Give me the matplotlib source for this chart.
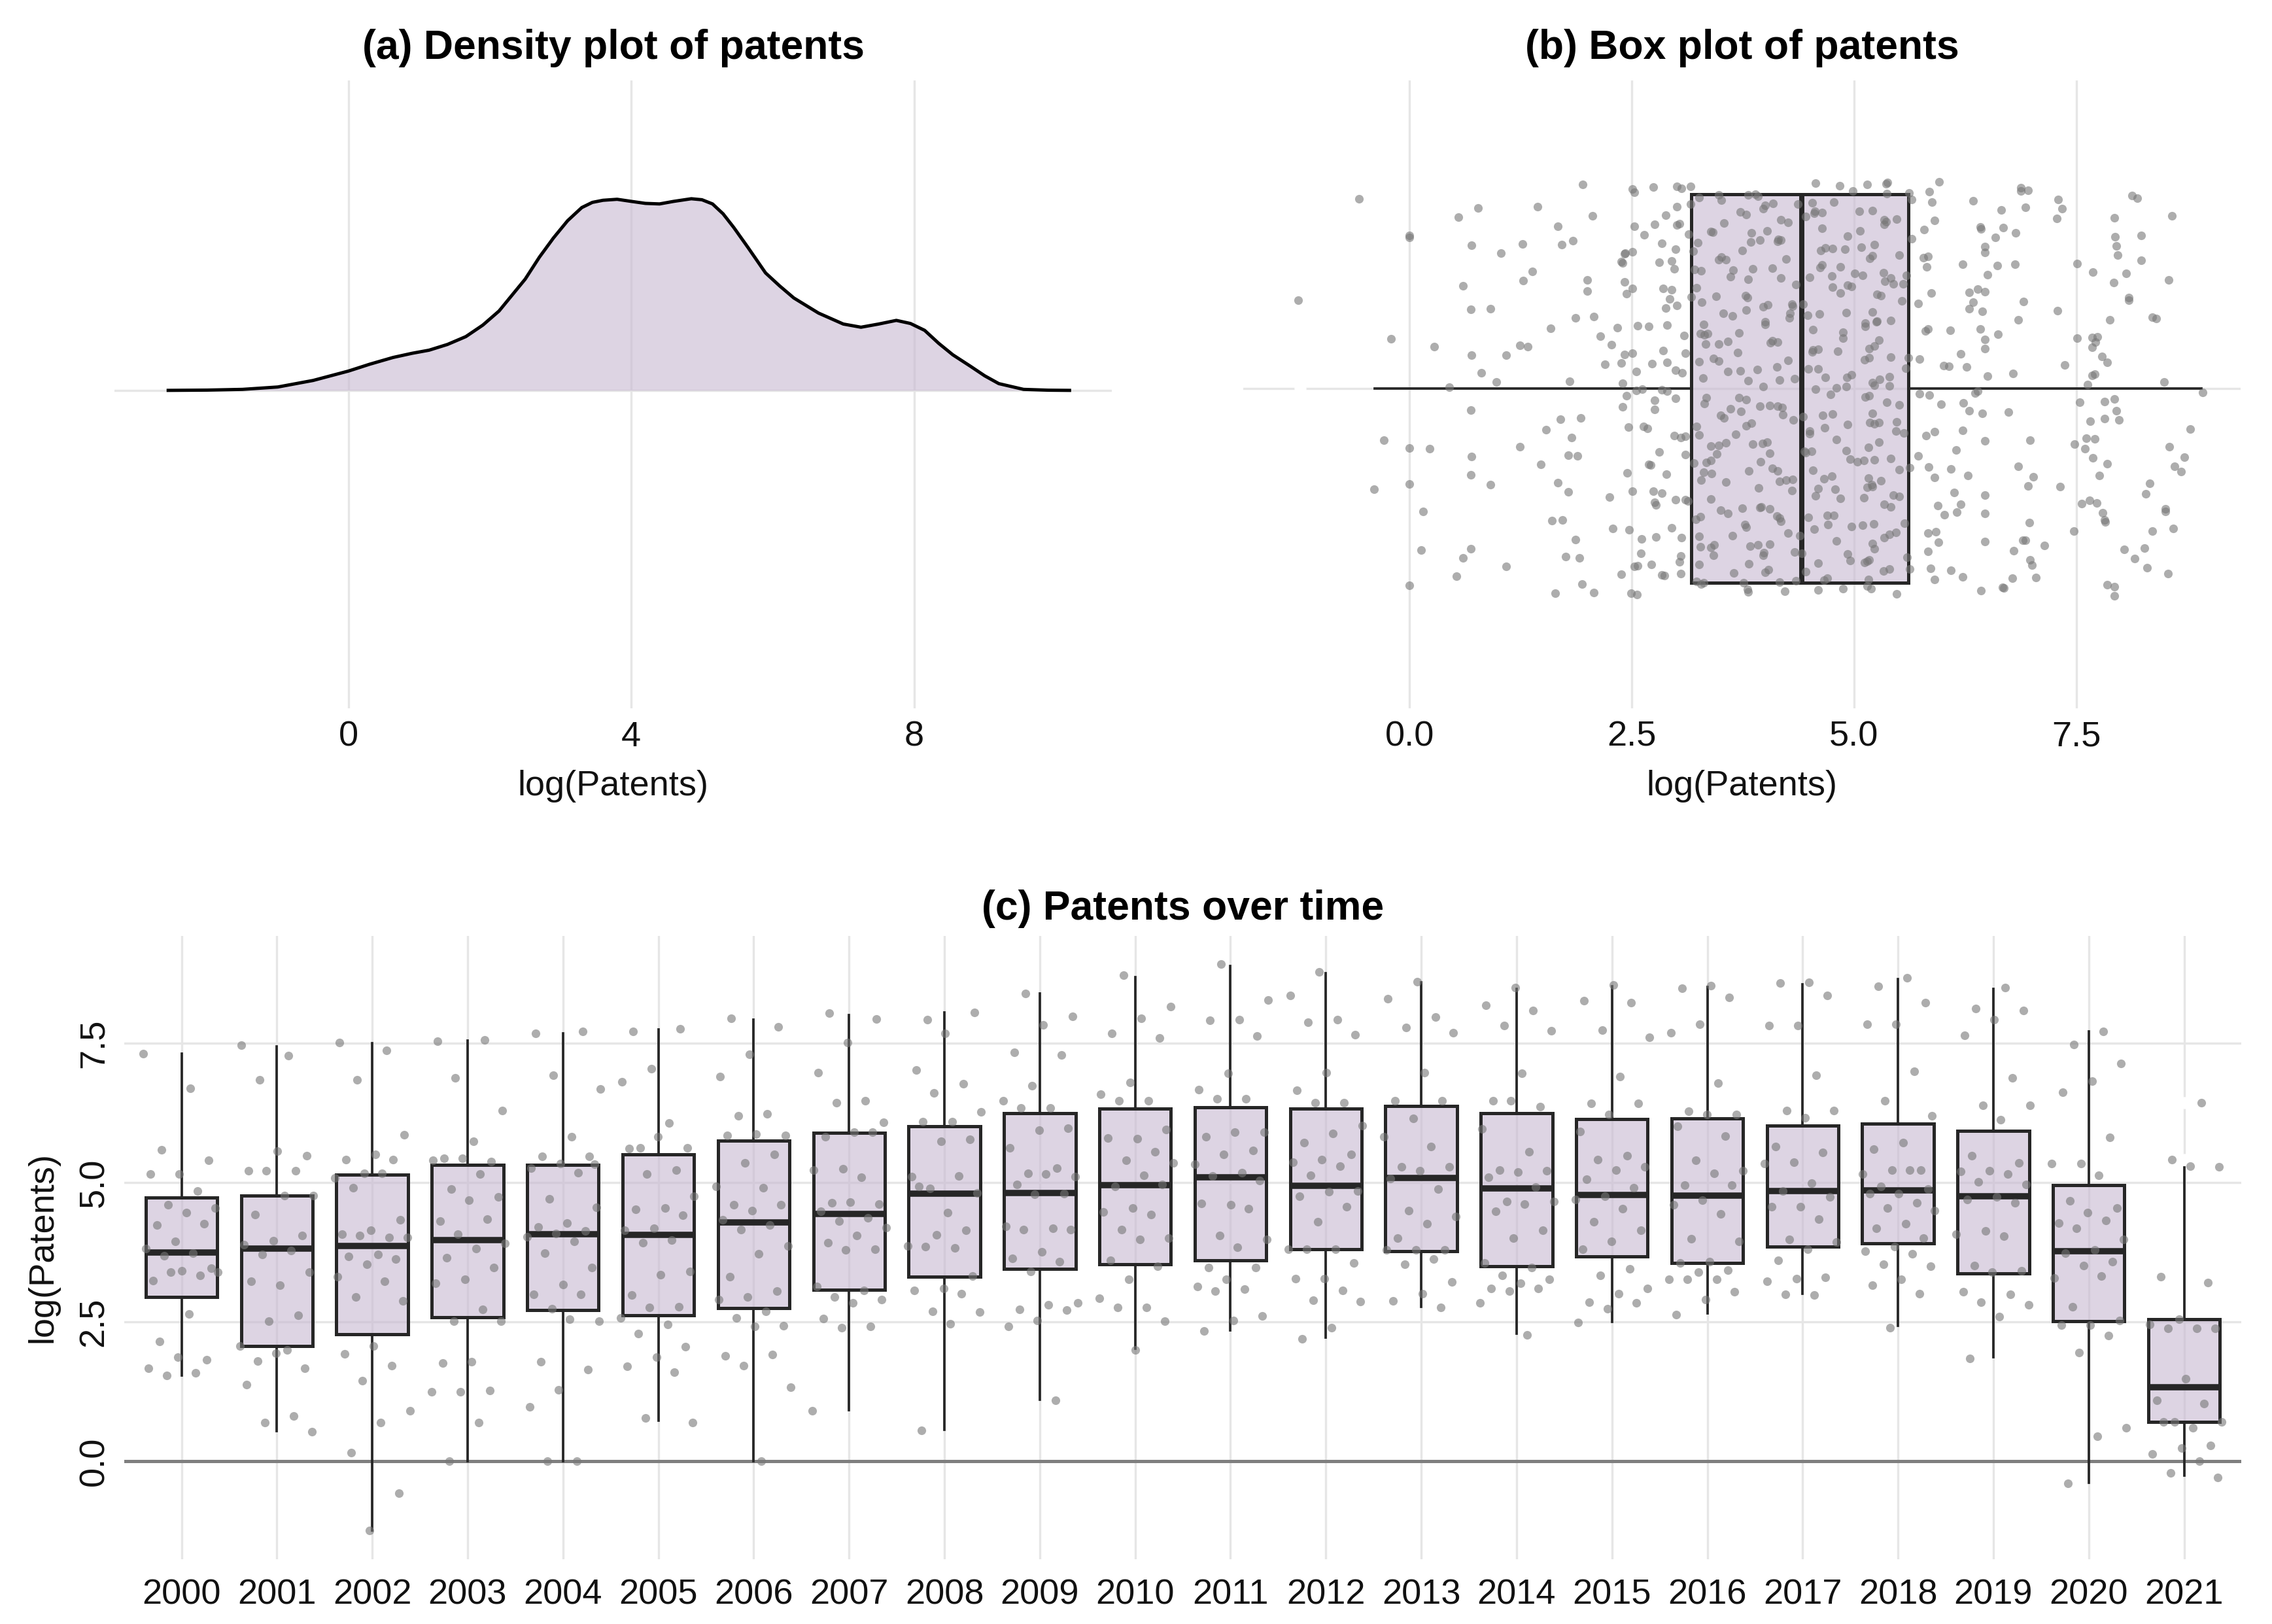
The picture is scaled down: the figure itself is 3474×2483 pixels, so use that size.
import numpy as np
import matplotlib.pyplot as plt

plt.rcParams['font.family'] = ['Liberation Sans', 'DejaVu Sans']

# panel (a): density of log(Patents)
dens_x = [-2.55, -2.0, -1.5, -1.0, -0.5, 0.0, 0.3, 0.63, 0.9, 1.14, 1.4, 1.66, 1.9, 2.13,
          2.3, 2.5, 2.7, 2.9, 3.1, 3.3, 3.45, 3.6, 3.8, 4.0, 4.2, 4.4, 4.6, 4.85, 5.0, 5.15,
          5.3, 5.45, 5.65, 5.9, 6.1, 6.3, 6.65, 7.0, 7.25, 7.5, 7.75, 7.95, 8.15, 8.35, 8.55,
          8.8, 9.0, 9.2, 9.55, 9.9, 10.2]
dens_y = [0.0, 0.0003, 0.0011, 0.0037, 0.0109, 0.0212, 0.0287, 0.0361, 0.0407, 0.0441,
          0.0504, 0.0590, 0.0716, 0.0871, 0.1032, 0.1221, 0.1461, 0.1673, 0.1862, 0.2006,
          0.2063, 0.2086, 0.2097, 0.2074, 0.2052, 0.2046, 0.2074, 0.2103, 0.2092, 0.2046,
          0.1937, 0.1788, 0.1570, 0.1289, 0.1146, 0.1014, 0.0848, 0.0728, 0.0693, 0.0728,
          0.0768, 0.0734, 0.0659, 0.0516, 0.0390, 0.0264, 0.0160, 0.0074, 0.0011, 0.0002,
          0.0]

# panel (b): box over all observations
all_q1, all_med, all_q3 = 3.17, 4.41, 5.61
all_whislo, all_whishi = -0.39, 8.91
all_outliers = [-1.23]

# panel (c): box statistics per year
years = list(range(2000, 2022))
q1 = [2.95, 2.07, 2.28, 2.58, 2.71, 2.62, 2.75, 3.08, 3.31, 3.45, 3.54, 3.61, 3.80, 3.77,
      3.50, 3.67, 3.56, 3.85, 3.91, 3.37, 2.51, 0.70]
med = [3.75, 3.82, 3.86, 3.97, 4.07, 4.06, 4.29, 4.44, 4.80, 4.82, 4.95, 5.10, 4.94, 5.09,
       4.90, 4.78, 4.77, 4.85, 4.86, 4.76, 3.77, 1.33]
q3 = [4.73, 4.77, 5.14, 5.32, 5.32, 5.51, 5.76, 5.89, 6.01, 6.25, 6.33, 6.35, 6.33, 6.38,
      6.25, 6.14, 6.15, 6.02, 6.06, 5.93, 4.96, 2.55]
whislo = [1.54, 0.54, -1.24, 0.00, 0.00, 0.73, 0.00, 0.92, 0.56, 1.10, 2.02, 2.35, 2.22, 2.77,
          2.29, 2.50, 2.65, 3.01, 2.43, 1.87, -0.39, -0.26]
whishi = [7.32, 7.45, 7.50, 7.55, 7.68, 7.75, 7.93, 8.01, 8.05, 8.40, 8.69, 8.89, 8.76, 8.60,
          8.48, 8.53, 8.51, 8.56, 8.65, 8.48, 7.71, 5.27]
out2021 = [6.43, 5.41]

# log(Patents) observations per year
p2000 = [7.32, 6.69, 5.59, 5.40, 5.16, 5.16, 4.85, 4.60, 4.54, 4.46, 4.24, 4.26, 3.95, 3.82, 3.74,
         3.69, 3.46, 3.42, 3.24, 3.33, 3.39, 3.39, 2.64, 2.15, 1.82, 1.87, 1.67, 1.59, 1.54]
p2001 = [7.47, 7.28, 6.85, 5.48, 5.57, 5.21, 5.21, 5.21, 4.77, 4.77, 4.43, 4.05, 3.96, 3.89, 3.78,
         3.71, 3.39, 3.16, 3.23, 2.62, 2.51, 2.07, 2.00, 1.80, 1.67, 1.94, 1.38, 0.81, 0.69, 0.53]
p2002 = [7.51, 7.37, 6.85, 5.86, 5.51, 5.41, 5.41, 5.17, 5.08, 5.17, 4.91, 4.33, 4.15, 4.08, 4.02,
         4.05, 4.02, 3.71, 3.67, 3.63, 3.54, 3.31, 3.23, 2.95, 2.88, 2.07, 1.93, 1.72, 1.44, 0.91,
         0.69, 0.15, -0.57, -1.25]
p2003 = [7.54, 7.56, 6.88, 6.30, 5.74, 5.44, 5.38, 5.44, 5.40, 5.15, 4.88, 4.75, 4.68, 4.31, 4.35,
         4.08, 3.91, 3.82, 3.65, 3.48, 3.26, 3.20, 2.72, 2.51, 2.51, 1.79, 1.76, 1.27, 1.24, 1.24,
         0.69, 0.00]
p2004 = [7.68, 7.71, 6.93, 6.68, 5.83, 5.47, 5.47, 5.34, 5.26, 5.18, 4.71, 4.56, 4.28, 4.20, 4.13,
         4.09, 4.03, 3.94, 3.74, 3.48, 3.17, 2.99, 2.99, 2.74, 2.51, 2.55, 1.79, 1.64, 1.28, 0.98,
         0.00, 0.00, 5.33]
p2005 = [7.71, 7.76, 7.05, 6.81, 6.07, 5.63, 5.63, 5.83, 5.61, 5.23, 5.15, 4.76, 4.54, 4.52, 4.41,
         4.18, 4.14, 3.97, 3.92, 3.41, 3.35, 2.98, 2.77, 2.76, 2.57, 2.46, 2.29, 2.06, 1.87, 1.70,
         1.60, 0.77, 0.69]
p2006 = [7.95, 7.80, 7.30, 6.91, 6.23, 6.20, 5.85, 5.87, 5.85, 5.51, 5.36, 4.93, 4.91, 4.60, 4.60,
         4.50, 4.33, 4.24, 4.16, 3.86, 3.72, 3.31, 3.05, 2.95, 2.90, 2.69, 2.57, 2.43, 2.42, 1.89,
         1.91, 1.71, 1.33, 0.00]
p2007 = [8.04, 7.94, 7.51, 6.98, 6.47, 6.43, 6.08, 5.91, 5.83, 5.91, 5.25, 5.23, 5.10, 4.64, 4.61,
         4.65, 4.49, 4.37, 4.31, 4.19, 4.05, 3.92, 3.80, 3.79, 3.13, 3.06, 2.95, 2.90, 2.84, 2.56,
         2.42, 2.40, 0.91]
p2008 = [7.93, 8.06, 7.68, 7.02, 6.78, 6.61, 6.27, 6.09, 6.09, 5.78, 5.74, 5.11, 5.12, 4.90, 4.82,
         4.46, 4.93, 4.14, 4.06, 3.86, 3.83, 3.85, 3.32, 3.10, 3.06, 3.01, 2.69, 2.68, 2.47, 0.55]
p2009 = [8.40, 7.98, 7.83, 7.34, 7.29, 6.74, 6.47, 6.34, 6.34, 5.98, 5.94, 5.62, 5.26, 5.17, 5.11,
         5.15, 4.97, 4.80, 4.79, 4.22, 4.18, 4.16, 4.16, 3.76, 3.64, 3.58, 3.40, 2.84, 2.81, 2.73,
         2.71, 2.53, 2.42, 1.09]
p2010 = [8.72, 8.16, 7.95, 7.68, 7.60, 6.80, 6.59, 6.47, 6.47, 5.95, 5.79, 5.80, 5.56, 5.40, 5.36,
         5.13, 4.93, 4.97, 4.55, 4.48, 4.43, 4.16, 4.00, 3.98, 3.61, 3.50, 3.26, 2.93, 2.76, 2.76,
         2.51, 2.00]
p2011 = [8.92, 8.28, 7.93, 7.92, 7.63, 6.96, 6.67, 6.50, 6.50, 5.91, 5.91, 5.82, 5.58, 5.51, 5.33,
         5.18, 5.12, 5.04, 4.60, 4.63, 4.53, 4.05, 3.98, 3.84, 3.48, 3.48, 3.27, 3.14, 3.09, 3.05,
         2.61, 2.53, 2.34]
p2012 = [8.78, 8.36, 7.93, 7.88, 7.66, 6.97, 6.66, 6.44, 6.44, 6.02, 5.88, 5.72, 5.51, 5.41, 5.37,
         5.30, 5.13, 4.85, 4.84, 4.76, 4.57, 4.30, 3.81, 3.81, 3.81, 3.56, 3.28, 3.28, 3.07, 2.89,
         2.87, 2.40, 2.20]
p2013 = [8.61, 8.30, 7.97, 7.79, 7.69, 6.98, 6.47, 6.47, 6.15, 5.83, 5.65, 5.28, 5.28, 5.21, 5.07,
         4.88, 4.50, 4.39, 4.26, 4.00, 3.79, 3.79, 3.79, 3.63, 3.54, 3.22, 3.01, 2.88, 2.76]
p2014 = [8.50, 8.19, 8.09, 7.82, 7.73, 6.96, 6.47, 6.36, 6.47, 5.96, 5.55, 5.23, 5.21, 5.19, 5.10,
         4.92, 4.66, 4.66, 4.62, 4.49, 4.14, 4.00, 3.56, 3.48, 3.34, 3.26, 3.19, 3.10, 3.10, 3.05,
         2.84, 2.27]
p2015 = [8.55, 8.27, 8.23, 7.74, 7.61, 6.90, 6.42, 6.42, 6.22, 5.92, 5.48, 5.41, 5.28, 5.22, 5.06,
         4.91, 4.76, 4.70, 4.53, 4.30, 4.14, 3.94, 3.81, 3.45, 3.34, 3.10, 3.01, 2.85, 2.84, 2.74,
         2.49]
p2016 = [8.54, 8.49, 8.33, 7.85, 7.69, 6.79, 6.28, 6.22, 6.22, 6.01, 5.84, 5.40, 5.21, 5.17, 4.96,
         4.96, 4.68, 4.60, 4.44, 3.99, 3.94, 3.58, 3.56, 3.43, 3.39, 3.27, 3.26, 3.26, 3.04, 2.90,
         2.63]
p2017 = [8.59, 8.58, 8.36, 7.82, 7.82, 6.93, 6.30, 6.30, 6.16, 5.65, 5.54, 5.37, 5.34, 4.99, 4.85,
         4.74, 4.57, 4.57, 4.35, 3.98, 3.93, 3.80, 3.61, 3.30, 3.28, 3.23, 2.98, 2.99]
p2018 = [8.68, 8.53, 8.23, 7.85, 7.85, 7.00, 6.47, 6.20, 5.72, 5.60, 5.23, 5.23, 5.16, 5.23, 4.93,
         4.88, 4.80, 4.80, 4.64, 4.54, 4.50, 4.26, 4.18, 4.00, 3.85, 3.77, 3.72, 3.53, 3.50, 3.27,
         3.16, 3.01, 2.40]
p2019 = [8.50, 8.13, 8.09, 7.93, 7.65, 6.88, 6.39, 6.39, 6.13, 5.48, 5.35, 5.21, 5.20, 5.15, 5.01,
         4.97, 4.75, 4.70, 4.64, 4.13, 4.08, 4.04, 3.51, 3.42, 3.39, 3.04, 2.99, 2.85, 2.81, 2.60,
         1.84]
p2020 = [7.72, 7.48, 7.14, 6.82, 6.62, 5.81, 5.34, 5.34, 5.13, 4.67, 4.55, 4.46, 4.27, 4.32, 4.18,
         3.98, 3.79, 3.73, 3.58, 3.51, 3.29, 3.32, 2.77, 2.53, 2.44, 2.44, 2.25, 1.95, 0.60, 0.45,
         -0.40]
p2021 = [6.43, 5.41, 5.29, 5.30, 3.31, 3.21, 2.55, 2.45, 2.38, 2.38, 2.38, 1.48, 1.09, 1.03, 0.70,
         0.70, 0.60, 0.70, 0.28, 0.23, 0.13, 0.00, -0.21, -0.29]

by_year = [p2000, p2001, p2002, p2003, p2004, p2005, p2006, p2007, p2008, p2009, p2010,
           p2011, p2012, p2013, p2014, p2015, p2016, p2017, p2018, p2019, p2020, p2021]

fill = (0.78, 0.72, 0.82, 0.6)
edge = '#262626'
dot = '#777777'
grid = '#E6E6E6'
txt = '#111111'


def jitter(n, shift, step=0.6180339887):
    # spread points evenly over [-0.5, 0.5) like geom_jitter
    return ((np.arange(n) + shift) * step) % 1.0 - 0.5


def clean(ax):
    for s in ax.spines.values():
        s.set_visible(False)
    ax.set_axisbelow(True)
    ax.tick_params(length=0, labelsize=13, labelcolor=txt)


fig = plt.figure(figsize=(3474 / 300, 2483 / 300), dpi=300)
ax_a = fig.add_axes([0.0504, 0.5638, 0.4390, 0.3866])
ax_b = fig.add_axes([0.5472, 0.5638, 0.4390, 0.3866])
ax_c = fig.add_axes([0.0547, 0.0399, 0.9318, 0.3838])

# (a) density
clean(ax_a)
ax_a.fill_between(dens_x, dens_y, 0, color=fill, lw=0, zorder=1)
ax_a.plot(dens_x, dens_y, color='black', lw=1.2, zorder=2)
ax_a.set_xlim(-3.31, 10.8)
ax_a.set_ylim(-0.349, 0.340)
ax_a.set_xticks([0, 4, 8])
ax_a.set_yticks([])
ax_a.grid(axis='x', color=grid, lw=0.8)
ax_a.axhline(0, color=grid, lw=0.8, zorder=0.5)
ax_a.tick_params(axis='x', pad=4.5)
ax_a.set_xlabel('log(Patents)', fontsize=13, color=txt, labelpad=6)
ax_a.set_title('(a) Density plot of patents', fontsize=15, fontweight='bold', pad=8)

# (b) overall box plot with jittered points
clean(ax_b)
ax_b.axhline(0, color=grid, lw=0.8, zorder=0.5)
stats_b = [dict(q1=all_q1, med=all_med, q3=all_q3, whislo=all_whislo, whishi=all_whishi,
                fliers=all_outliers)]
ax_b.bxp(stats_b, positions=[0], widths=0.75, orientation='horizontal', patch_artist=True,
         showcaps=False, manage_ticks=False,
         boxprops=dict(facecolor=fill, edgecolor=edge, linewidth=1.2, zorder=1),
         medianprops=dict(color=edge, linewidth=1.9, zorder=2),
         whiskerprops=dict(color=edge, linewidth=0.9, zorder=2),
         flierprops=dict(marker='o', markerfacecolor='white', markeredgecolor='white',
                         markersize=3.4, zorder=1))
all_vals = np.concatenate([np.array(v) for v in by_year])
ax_b.scatter(all_vals, 0.8 * jitter(len(all_vals), 3, 0.7548776662), s=10, color=dot,
             alpha=0.6, lw=0, zorder=3)
ax_b.set_xlim(-1.87, 9.35)
ax_b.set_ylim(-0.617, 0.595)
ax_b.set_xticks([0, 2.5, 5, 7.5])
ax_b.set_xticklabels(['0.0', '2.5', '5.0', '7.5'])
ax_b.set_yticks([])
ax_b.grid(axis='x', color=grid, lw=0.8)
ax_b.tick_params(axis='x', pad=4.5)
ax_b.set_xlabel('log(Patents)', fontsize=13, color=txt, labelpad=6)
ax_b.set_title('(b) Box plot of patents', fontsize=15, fontweight='bold', pad=8)

# (c) box plot per year
clean(ax_c)
pos = np.arange(len(years))
ax_c.axhline(0, color='#7F7F7F', lw=1.2, zorder=0.8)
stats_c = []
for i in range(len(years)):
    stats_c.append(dict(q1=q1[i], med=med[i], q3=q3[i], whislo=whislo[i], whishi=whishi[i],
                        fliers=out2021 if years[i] == 2021 else []))
ax_c.bxp(stats_c, positions=pos, widths=0.75, patch_artist=True, showcaps=False,
         manage_ticks=False,
         boxprops=dict(facecolor=fill, edgecolor=edge, linewidth=1.2, zorder=1),
         medianprops=dict(color=edge, linewidth=2.3, zorder=2),
         whiskerprops=dict(color=edge, linewidth=0.9, zorder=2),
         flierprops=dict(marker='o', markerfacecolor='white', markeredgecolor='white',
                         markersize=3.4, zorder=1))
for i, vals in enumerate(by_year):
    ax_c.scatter(i + 0.8 * jitter(len(vals), i * 13), vals, s=10, color=dot, alpha=0.6,
                 lw=0, zorder=3)
ax_c.set_xlim(-0.6, len(years) - 0.4)
ax_c.set_ylim(-1.76, 9.43)
ax_c.set_xticks(pos)
ax_c.set_xticklabels([str(y) for y in years])
ax_c.set_yticks([0, 2.5, 5, 7.5])
ax_c.set_yticklabels(['0.0', '2.5', '5.0', '7.5'], rotation=90, va='center')
ax_c.grid(color=grid, lw=0.8)
ax_c.tick_params(axis='x', pad=7)
ax_c.tick_params(axis='y', pad=5)
ax_c.set_ylabel('log(Patents)', fontsize=13, color=txt, labelpad=7)
ax_c.set_title('(c) Patents over time', fontsize=15, fontweight='bold', pad=6)

fig.savefig('out.png', dpi=300)
